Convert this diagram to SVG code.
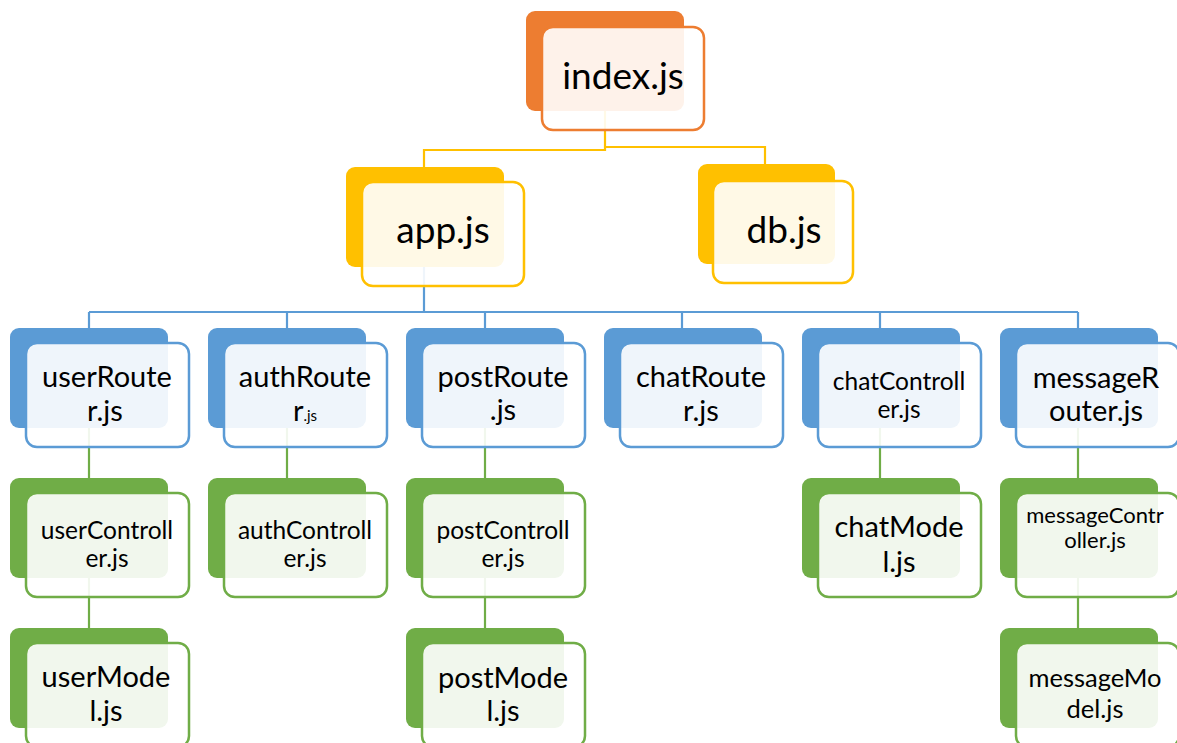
<svg xmlns="http://www.w3.org/2000/svg" width="1177" height="743" viewBox="0 0 1177 743">
<style>
.bk{stroke:none}
.fr{fill:#ffffff;fill-opacity:0.9;stroke-width:2.5}
.o .bk{fill:#ED7D31}.o .fr{stroke:#ED7D31}
.y .bk{fill:#FFC000}.y .fr{stroke:#FFC000}
.b .bk{fill:#5B9BD5}.b .fr{stroke:#5B9BD5}
.g .bk{fill:#70AD47}.g .fr{stroke:#70AD47}
text{font-family:Lato,"Open Sans","Liberation Sans",sans-serif;fill:#000;text-anchor:middle}
.t1{font-size:37px}.t2{font-size:29px}.t3{font-size:24.5px}.t4{font-size:22px}.t5{font-size:25.5px}
.c{fill:none;stroke-width:2.2}
</style>
<rect width="1177" height="743" fill="#fff"/>
<g id="connectors">
<path class="c" stroke="#FFC000" d="M605,110 V150 H424 V167 M605,147 H765 V164"/>
<path class="c" stroke="#5B9BD5" d="M424,267 V312 M89,312 H1078 M89,312 V328 M287,312 V328 M485,312 V328 M682,312 V328 M880,312 V328 M1078,312 V328"/>
<path class="c" stroke="#70AD47" d="M89,428 V478 M89,578 V628 M287,428 V478 M485,428 V478 M485,578 V628 M880,428 V478 M1078,428 V478 M1078,578 V628"/>
</g>
<g id="index" class="o"><rect class="bk" x="526" y="11" width="158" height="100" rx="9"/><rect class="fr" x="542" y="27" width="162" height="103" rx="11"/><text class="t1" x="623" y="89">index.js</text></g>
<g id="app" class="y"><rect class="bk" x="346" y="167" width="158" height="100" rx="9"/><rect class="fr" x="362" y="182" width="162" height="104" rx="11"/><text class="t1" x="443" y="243">app.js</text></g>
<g id="db" class="y"><rect class="bk" x="698" y="164" width="137" height="100" rx="9"/><rect class="fr" x="713" y="181" width="140" height="102" rx="11"/><text class="t1" x="784" y="243">db.js</text></g>

<g id="userRouter" class="b"><rect class="bk" x="10" y="328" width="158" height="100" rx="9"/><rect class="fr" x="26" y="343" width="163" height="104" rx="11"/><text class="t2" x="107" y="387">userRoute</text><text class="t2" x="105" y="421">r.js</text></g>
<g id="authRouter" class="b"><rect class="bk" x="208" y="328" width="158" height="100" rx="9"/><rect class="fr" x="224" y="343" width="163" height="104" rx="11"/><text class="t2" x="305" y="387">authRoute</text><text x="305" y="421"><tspan class="t2">r</tspan><tspan style="font-size:15px">.js</tspan></text></g>
<g id="postRoute" class="b"><rect class="bk" x="406" y="328" width="158" height="100" rx="9"/><rect class="fr" x="422" y="343" width="163" height="104" rx="11"/><text class="t2" x="503" y="387">postRoute</text><text class="t2" x="503" y="420">.js</text></g>
<g id="chatRouter" class="b"><rect class="bk" x="604" y="328" width="158" height="100" rx="9"/><rect class="fr" x="620" y="343" width="163" height="104" rx="11"/><text class="t2" x="701" y="387">chatRoute</text><text class="t2" x="701" y="421">r.js</text></g>
<g id="chatController" class="b"><rect class="bk" x="802" y="328" width="158" height="100" rx="9"/><rect class="fr" x="818" y="343" width="163" height="104" rx="11"/><text class="t3" x="899" y="390">chatControll</text><text class="t3" x="899" y="418">er.js</text></g>
<g id="messageRouter" class="b"><rect class="bk" x="1000" y="328" width="158" height="100" rx="9"/><rect class="fr" x="1016" y="343" width="163" height="104" rx="11"/><text class="t2" x="1096" y="388">messageR</text><text class="t2" x="1096" y="421">outer.js</text></g>

<g id="userController" class="g"><rect class="bk" x="10" y="478" width="158" height="100" rx="9"/><rect class="fr" x="26" y="493" width="163" height="104" rx="11"/><text class="t3" x="107" y="539">userControll</text><text class="t3" x="107" y="567">er.js</text></g>
<g id="authController" class="g"><rect class="bk" x="208" y="478" width="158" height="100" rx="9"/><rect class="fr" x="224" y="493" width="163" height="104" rx="11"/><text class="t3" x="305" y="539">authControll</text><text class="t3" x="305" y="567">er.js</text></g>
<g id="postController" class="g"><rect class="bk" x="406" y="478" width="158" height="100" rx="9"/><rect class="fr" x="422" y="493" width="163" height="104" rx="11"/><text class="t3" x="503" y="539">postControll</text><text class="t3" x="503" y="567">er.js</text></g>
<g id="chatModel" class="g"><rect class="bk" x="802" y="478" width="158" height="100" rx="9"/><rect class="fr" x="818" y="493" width="163" height="104" rx="11"/><text class="t2" x="899" y="537">chatMode</text><text class="t2" x="899" y="572">l.js</text></g>
<g id="messageController" class="g"><rect class="bk" x="1000" y="478" width="158" height="100" rx="9"/><rect class="fr" x="1016" y="493" width="163" height="104" rx="11"/><text class="t4" x="1095" y="523">messageContr</text><text class="t4" x="1095" y="548">oller.js</text></g>

<g id="userModel" class="g"><rect class="bk" x="10" y="628" width="158" height="100" rx="9"/><rect class="fr" x="26" y="643" width="163" height="104" rx="11"/><text class="t2" x="106" y="687">userMode</text><text class="t2" x="106" y="721">l.js</text></g>
<g id="postModel" class="g"><rect class="bk" x="406" y="628" width="158" height="100" rx="9"/><rect class="fr" x="422" y="643" width="163" height="104" rx="11"/><text class="t2" x="503" y="688">postMode</text><text class="t2" x="503" y="721">l.js</text></g>
<g id="messageModel" class="g"><rect class="bk" x="1000" y="628" width="158" height="100" rx="9"/><rect class="fr" x="1016" y="643" width="163" height="104" rx="11"/><text class="t5" x="1095" y="687">messageMo</text><text class="t5" x="1095" y="718">del.js</text></g>
</svg>
